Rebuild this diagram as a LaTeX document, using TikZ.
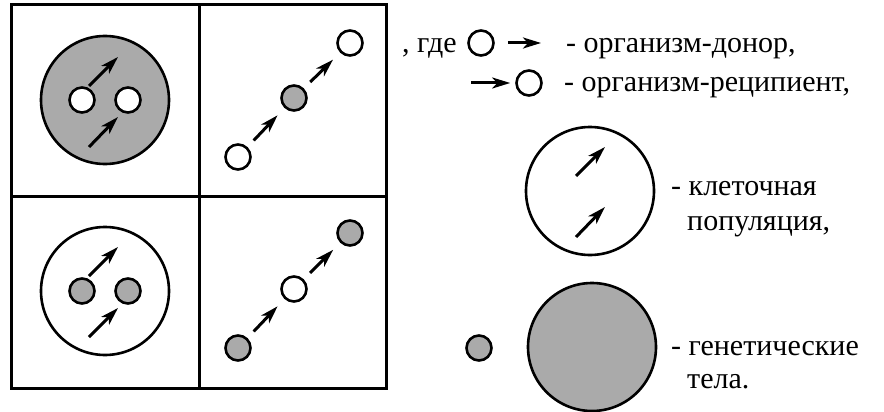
\documentclass[tikz,border=0pt]{standalone}
\usepackage{fontspec}
\setmainfont{Liberation Serif}
\usetikzlibrary{arrows.meta}
\definecolor{genfill}{RGB}{170,170,170}
\begin{document}
\begin{tikzpicture}[x=1pt,y=-1pt,
  gen/.style={circle,draw,line width=2.6pt,fill=genfill,minimum size=25pt,inner sep=0pt},
  org/.style={circle,draw,line width=2.6pt,fill=white,minimum size=25pt,inner sep=0pt},
  pop/.style={circle,draw,line width=2.6pt,minimum size=128pt,inner sep=0pt},
  tr/.style={line width=3pt,-{Stealth[length=18pt,width=11pt,inset=5pt]}},
  lbl/.style={anchor=base west,inner sep=0pt,font=\fontsize{30}{36}\selectfont},
  frame/.style={line width=3pt}]
\useasboundingbox (0,0) rectangle (884,412);
% grid
\draw[frame] (11,5) rectangle (386,388);
\draw[frame] (199,5) -- (199,388);
\draw[frame] (11,196) -- (386,196);
% top-left cell
\node[pop,fill=genfill] (p1) at (105,100) {};
\node[org] (a1) at (82,100) {};
\node[org] (a2) at (128,100) {};
\coordinate (s1) at (89,86); \coordinate (e1) at (118,57);
\coordinate (s2) at (89,147); \coordinate (e2) at (118,117);
\draw[tr] (s1) -- (e1);
\draw[tr] (s2) -- (e2);
% top-right cell
\node[org] (b1) at (238,157) {};
\node[gen] (b2) at (294,98) {};
\node[org] (b3) at (350,43) {};
\draw[tr,shorten <=9pt,shorten >=10pt] (b1) -- (b2);
\draw[tr,shorten <=9pt,shorten >=10pt] (b2) -- (b3);
% bottom-left cell
\node[pop] (p2) at (105,291) {};
\node[gen] (c1) at (82,291) {};
\node[gen] (c2) at (128,291) {};
\coordinate (s3) at (89,276); \coordinate (e3) at (118,247);
\coordinate (s4) at (89,337); \coordinate (e4) at (118,308);
\draw[tr] (s3) -- (e3);
\draw[tr] (s4) -- (e4);
% bottom-right cell
\node[gen] (d1) at (238,348) {};
\node[org] (d2) at (294,289) {};
\node[gen] (d3) at (350,233) {};
\draw[tr,shorten <=9pt,shorten >=10pt] (d1) -- (d2);
\draw[tr,shorten <=9pt,shorten >=10pt] (d2) -- (d3);
% legend
\node[lbl] (t1) at (402,53) {, где};
\node[org] (l1) at (481,43) {};
\coordinate (l1e) at (541,43);
\draw[tr,shorten <=13pt] (l1) -- (l1e);
\node[lbl] (t2) at (566,53) {- организм-донор,};
\coordinate (l2s) at (471,83);
\node[org] (l2) at (529,83) {};
\draw[tr,shorten >=5pt] (l2s) -- (l2);
\node[lbl] (t3) at (564,92) {- организм-реципиент,};
\node[pop,fill=white] (lp) at (590,191) {};
\coordinate (s5) at (576,176); \coordinate (e5) at (605,147);
\coordinate (s6) at (576,237); \coordinate (e6) at (605,207);
\draw[tr] (s5) -- (e5);
\draw[tr] (s6) -- (e6);
\node[lbl] (t4) at (671,195) {- клеточная};
\node[lbl] (t5) at (687,230) {популяция,};
\node[gen] (lg1) at (479,348) {};
\node[pop,fill=genfill] (lg2) at (592,347) {};
\node[lbl] (t6) at (671,355) {- генетические};
\node[lbl] (t7) at (687,388) {тела.};
\end{tikzpicture}
\end{document}
